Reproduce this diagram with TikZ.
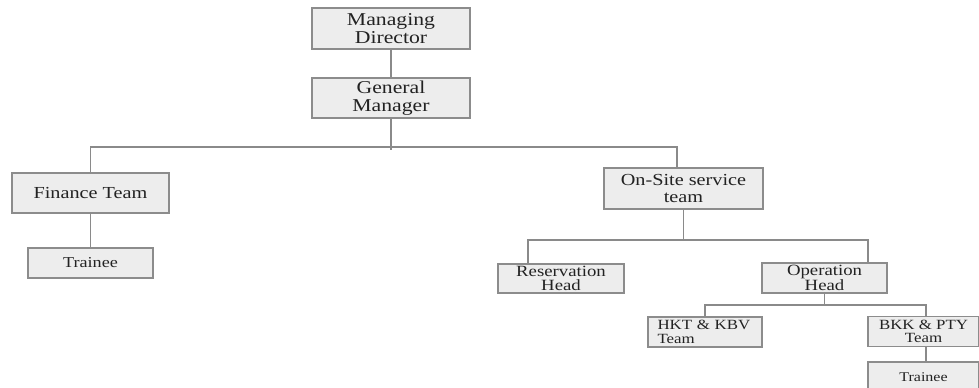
\documentclass[tikz,border=0pt]{standalone}
\usepackage{fontspec}
\setmainfont[FakeStretch=1.2]{Liberation Serif}
\usetikzlibrary{calc}

\definecolor{boxfill}{HTML}{EDEDED}
\definecolor{boxline}{HTML}{8C8C8C}
\definecolor{linkgray}{HTML}{8A8A8A}
\definecolor{labeltext}{HTML}{222222}

\tikzset{
    unit/.style={draw=boxline, fill=boxfill, inner sep=1pt, align=center,
        text=labeltext, line width=0.8pt},
    link/.style={draw=linkgray, line width=0.8pt}
}

\begin{document}
\begin{tikzpicture}[x=0.02cm, y=-0.02cm]

        \clip (0,0) rectangle (979,387);
        \useasboundingbox (0,0) rectangle (979,387);

        % Top of the chart
        \node[unit, minimum width=3.16cm, minimum height=0.82cm, font=\fontsize{10.3}{10}\selectfont]
            (md) at (391,28.5) {Managing\\Director};
        \node[unit, minimum width=3.16cm, minimum height=0.80cm, font=\fontsize{10.3}{10}\selectfont]
            (gm) at (391,98) {General\\Manager};

        % Left branch
        \node[unit, minimum width=3.14cm, minimum height=0.80cm, font=\fontsize{9.6}{9}\selectfont]
            (fin) at (90.5,193) {Finance Team};
        \node[unit, minimum width=2.50cm, minimum height=0.60cm, font=\fontsize{8.6}{8}\selectfont]
            (trfin) at (90.5,263) {Trainee};

        % Right branch
        \node[unit, minimum width=3.18cm, minimum height=0.82cm, font=\fontsize{9.6}{9.2}\selectfont]
            (onsite) at (683.5,188.5) {On-Site service\\team};
        \node[unit, minimum width=2.52cm, minimum height=0.58cm, font=\fontsize{8.9}{8}\selectfont]
            (resv) at (561,278.5) {Reservation\\Head};
        \node[unit, minimum width=2.50cm, minimum height=0.60cm, font=\fontsize{8.9}{8.2}\selectfont]
            (oper) at (824.5,278) {Operation\\Head};
        \node[unit, minimum width=2.28cm, minimum height=0.60cm, font=\fontsize{8}{7.8}\selectfont,
            align=left, text width=1.9cm]
            (hkt) at (705,332) {HKT \& KBV\\Team};
        \node[unit, minimum width=2.22cm, minimum height=0.60cm, font=\fontsize{8}{7.8}\selectfont]
            (bkk) at (923.5,331.5) {BKK \& PTY\\Team};
        \node[unit, minimum width=2.22cm, minimum height=0.60cm, font=\fontsize{7.6}{8}\selectfont]
            (trbkk) at (923.5,377) {Trainee};

        % Bus lines
        \coordinate (busL) at (90,147);
        \coordinate (busR) at (677,147);
        \coordinate (osL) at (528,240);
        \coordinate (osR) at (868,240);
        \coordinate (opL) at (705,305);
        \coordinate (opR) at (926,305);

        \draw[link] (md) -- (gm);
        \draw[link] (gm.south) -- ($(gm.south |- busL)+(0,3)$);
        \draw[link] (fin.north |- busL) -- (fin.north);
        \draw[link] (busL) -- (busR) -- (busR |- onsite.north);
        \draw[link] (fin) -- (trfin);

        \draw[link] (osL |- resv.north) -- (osL) -- (osR) -- (osR |- oper.north);
        \draw[link] (onsite.south) -- (onsite.south |- osL);

        \draw[link] (oper.south) -- (oper.south |- opL);
        \draw[link] (opL |- hkt.north) -- (opL) -- (opR) -- (opR |- bkk.north);
        \draw[link] (bkk.south -| opR) -- (trbkk.north -| opR);

    \end{tikzpicture}
\end{document}
